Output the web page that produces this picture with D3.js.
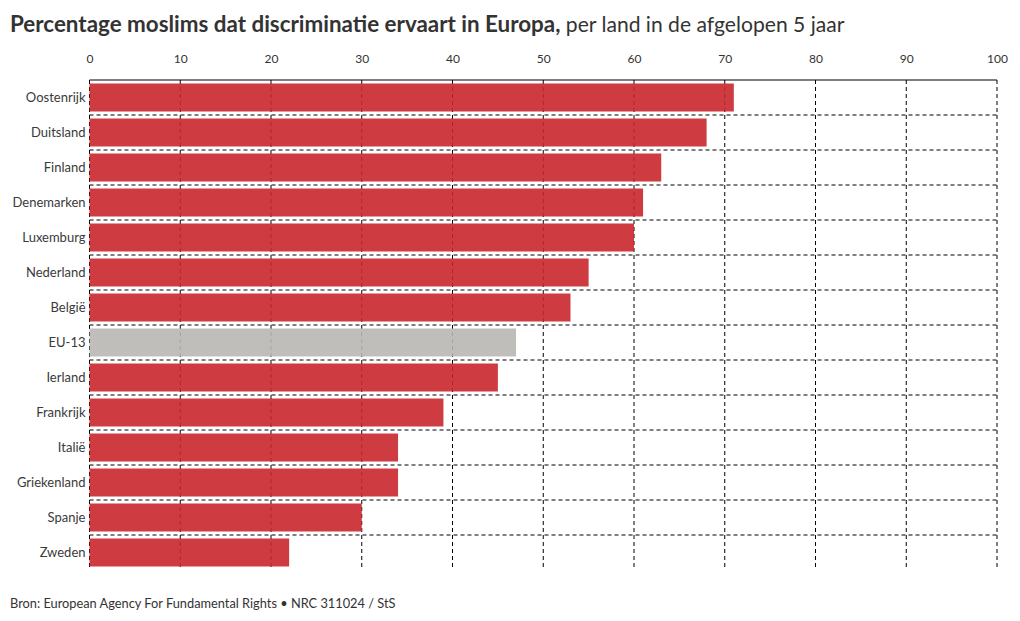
<!DOCTYPE html>
<html><head><meta charset="utf-8">
<script src="https://cdn.jsdelivr.net/npm/d3@7"></script>
<style>body{margin:0;background:#fff;} text{font-family:"Lato","Open Sans",sans-serif;}</style>
</head><body>
<svg id="c" width="1020" height="621"></svg>
<script>
const countries = ["Oostenrijk","Duitsland","Finland","Denemarken","Luxemburg","Nederland","België","EU-13","Ierland","Frankrijk","Italië","Griekenland","Spanje","Zweden"];
const values = [71,68,63,61,60,55,53,47,45,39,34,34,30,22];
const highlight = ["EU-13"];
const ticks = [0,10,20,30,40,50,60,70,80,90,100];

const svg = d3.select("#c");
const m = {l:89.5, r:997, t:80, b:570};
const x = d3.scaleLinear().domain([0,100]).range([m.l, m.r]);
const y = d3.scaleBand().domain(countries).range([m.t, m.b]).paddingInner(0.2).paddingOuter(0.1);
const step = y.step();

// title
const t = svg.append("text").attr("x",10).attr("y",32).attr("fill","#333");
t.append("tspan").attr("font-weight","bold").style("font-size","22.4px").text("Percentage moslims dat discriminatie ervaart in Europa,");
t.append("tspan").style("font-size","21.1px").text(" per land in de afgelopen 5 jaar");

// vertical grid
svg.append("g").selectAll("line").data(ticks).join("line")
  .attr("x1",d=>x(d)).attr("x2",d=>x(d)).attr("y1",m.t).attr("y2",m.b)
  .attr("stroke","#000").attr("stroke-dasharray","4,3").attr("stroke-width",1);
// horizontal row separators
svg.append("g").selectAll("line").data(countries.slice(1)).join("line")
  .attr("x1",m.l).attr("x2",m.r)
  .attr("y1",(d,i)=>m.t+step*(i+1)).attr("y2",(d,i)=>m.t+step*(i+1))
  .attr("stroke","#000").attr("stroke-dasharray","4,3").attr("stroke-width",1);

// bars
svg.append("g").selectAll("rect").data(countries).join("rect")
  .attr("x",x(0)).attr("y",d=>y(d))
  .attr("width",(d,i)=>x(values[i])-x(0)).attr("height",y.bandwidth())
  .attr("fill",d=>highlight.includes(d)?"#b8b7b2":"#c9262b")
  .attr("fill-opacity",0.9);

// top axis line
svg.append("line").attr("x1",m.l).attr("x2",m.r).attr("y1",m.t).attr("y2",m.t).attr("stroke","#000").attr("stroke-width",1.2);

// top axis labels
const xa = d3.axisTop(x).tickValues(ticks).tickSize(0).tickPadding(0);
const gx = svg.append("g").attr("transform",`translate(0,63)`).call(xa);
gx.select(".domain").remove();
gx.selectAll("text").attr("fill","#333").style("font-size","12px").style("font-family","Lato, 'Open Sans', sans-serif");

// y labels
const ya = d3.axisLeft(y).tickSize(0).tickPadding(0);
const gy = svg.append("g").attr("transform",`translate(${m.l-4},0)`).call(ya);
gy.select(".domain").remove();
gy.selectAll("text").attr("fill","#3a3a3a").style("font-size","13px").style("font-family","Lato, 'Open Sans', sans-serif");

// footer
svg.append("text").attr("x",10).attr("y",608).attr("fill","#333").style("font-size","12.8px")
  .text("Bron: European Agency For Fundamental Rights • NRC 311024 / StS");
</script>
</body></html>
